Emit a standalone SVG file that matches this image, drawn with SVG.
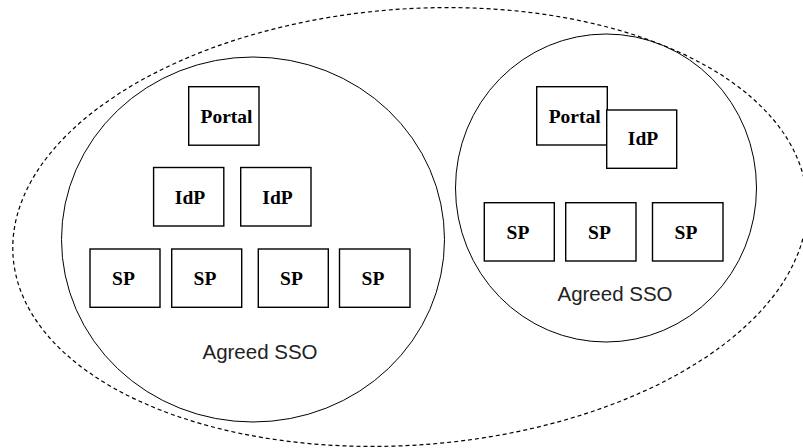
<svg xmlns="http://www.w3.org/2000/svg" width="803" height="448" viewBox="0 0 803 448">
<style>
.bg{fill:#fff}
.grp{fill:none;stroke:#000;stroke-width:1}
.fed{fill:none;stroke:#000;stroke-width:1.2;stroke-dasharray:4 3}
.box{fill:#fff;stroke:#000;stroke-width:1.4}
.lbl{font-family:"Liberation Serif","Times New Roman",serif;font-weight:bold;font-size:19.5px;fill:#000;text-anchor:middle}
.cap{font-family:"Liberation Sans",Arial,sans-serif;font-size:20.5px;fill:#222;text-anchor:middle}
</style>
<rect class="bg" x="0" y="0" width="803" height="448"/>
<g id="federation">
<ellipse class="fed" cx="410" cy="227" rx="398" ry="218" transform="rotate(-4.3 410 227)"/>
</g>
<g id="sso-left">
<ellipse class="grp" cx="253" cy="239.5" rx="191.5" ry="182.5"/>
<text class="cap" x="260" y="359.3">Agreed SSO</text>
</g>
<g id="sso-right">
<ellipse class="grp" cx="606" cy="188" rx="150.5" ry="154"/>
<text class="cap" x="615" y="301">Agreed SSO</text>
</g>
<g id="l-portal"><rect class="box" x="188.7" y="86.7" width="70.3" height="58.5"/><text class="lbl" x="226.5" y="123.3">Portal</text></g>
<g id="l-idp1"><rect class="box" x="153.6" y="167.5" width="70.2" height="58.5"/><text class="lbl" x="190" y="204">IdP</text></g>
<g id="l-idp2"><rect class="box" x="240.7" y="167.5" width="70.3" height="58.5"/><text class="lbl" x="277.5" y="204">IdP</text></g>
<g id="l-sp1"><rect class="box" x="90" y="249" width="70" height="58.3"/><text class="lbl" x="123.5" y="285">SP</text></g>
<g id="l-sp2"><rect class="box" x="171.7" y="249" width="70" height="58.3"/><text class="lbl" x="205" y="285">SP</text></g>
<g id="l-sp3"><rect class="box" x="258.3" y="249" width="70" height="58.3"/><text class="lbl" x="291.5" y="285">SP</text></g>
<g id="l-sp4"><rect class="box" x="339.5" y="249" width="70.5" height="58.3"/><text class="lbl" x="373" y="285">SP</text></g>
<g id="r-portal"><rect class="box" x="536.7" y="86.7" width="70.6" height="58.3"/><text class="lbl" x="574.7" y="122.7">Portal</text></g>
<g id="r-idp"><rect class="box" x="606.7" y="110" width="70" height="58.3"/><text class="lbl" x="643" y="145">IdP</text></g>
<g id="r-sp1"><rect class="box" x="484.3" y="202.7" width="70" height="58.3"/><text class="lbl" x="518" y="238.5">SP</text></g>
<g id="r-sp2"><rect class="box" x="565.7" y="202.7" width="70.3" height="58.3"/><text class="lbl" x="599.5" y="238.5">SP</text></g>
<g id="r-sp3"><rect class="box" x="652.5" y="202.7" width="70.5" height="58.3"/><text class="lbl" x="686" y="238.5">SP</text></g>
<g id="connectors"></g>
</svg>
